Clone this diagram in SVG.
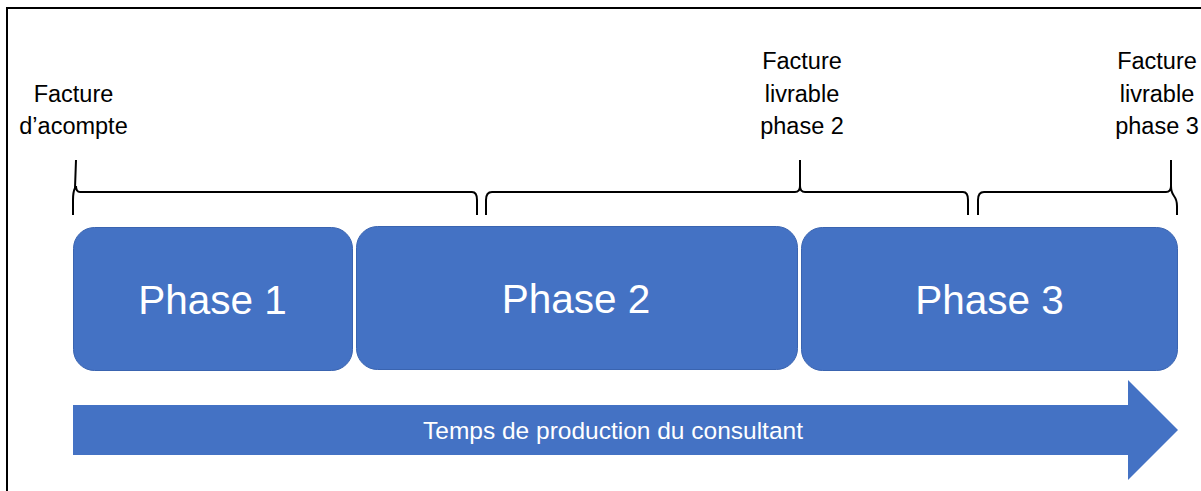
<svg xmlns="http://www.w3.org/2000/svg" width="1201" height="491" viewBox="0 0 1201 491">
  <style>
    .box { fill: #4472C4; stroke: #3A64B0; stroke-width: 1; }
    .phase { font-family: "Liberation Sans", Arial, sans-serif; font-size: 40.5px; fill: #FFFFFF; text-anchor: middle; }
    .label { font-family: "Liberation Sans", Arial, sans-serif; font-size: 23.5px; fill: #000000; text-anchor: middle; }
    .arrowtext { font-family: "Liberation Sans", Arial, sans-serif; font-size: 24.5px; fill: #FFFFFF; text-anchor: middle; }
    .brace { fill: none; stroke: #000000; stroke-width: 2; stroke-linejoin: round; }
    .frame { fill: none; stroke: #000000; stroke-width: 2; }
  </style>
  <rect width="1201" height="491" fill="#FFFFFF"/>
  <g id="frame">
    <path class="frame" d="M7,491 L7,8 L1201,8"/>
  </g>
  <g id="label-acompte">
    <text class="label" x="73.5" y="102">Facture</text>
    <text class="label" x="73.5" y="134">d’acompte</text>
  </g>
  <g id="label-phase2">
    <text class="label" x="802" y="69">Facture</text>
    <text class="label" x="802" y="102">livrable</text>
    <text class="label" x="802" y="134">phase 2</text>
  </g>
  <g id="label-phase3">
    <text class="label" x="1157" y="69">Facture</text>
    <text class="label" x="1157" y="102">livrable</text>
    <text class="label" x="1157" y="134">phase 3</text>
  </g>
  <g id="connectors">
    <path class="brace" d="M73,215 L73,200 Q73,192 75,188 L76,160 M76,186 Q76,192 80,192 L472,192 Q477,192 477,200 L477,215"/>
    <path class="brace" d="M486,215 L486,200 Q486,192 492,192 L795,192 Q800,192 800,186 L800,160 M800,186 Q800,192 805,192 L963,192 Q968,192 968,200 L968,215"/>
    <path class="brace" d="M978,215 L978,200 Q978,192 984,192 L1166,192 Q1171,192 1171,186 L1171,160 M1171,186 Q1171,192 1174,196 Q1177,200 1177,206 L1177,215"/>
  </g>
  <g id="phase1">
    <rect class="box" x="73.5" y="227.5" width="279" height="143" rx="21" ry="21"/>
    <text class="phase" x="212.5" y="314">Phase 1</text>
  </g>
  <g id="phase2">
    <rect class="box" x="356.5" y="226.5" width="441" height="143" rx="21" ry="21"/>
    <text class="phase" x="576" y="313">Phase 2</text>
  </g>
  <g id="phase3">
    <rect class="box" x="801.5" y="227.5" width="376" height="143" rx="21" ry="21"/>
    <text class="phase" x="989.5" y="314">Phase 3</text>
  </g>
  <g id="timeline">
    <polygon fill="#4472C4" points="73,405 1128,405 1128,380 1178,430 1128,480 1128,455 73,455"/>
    <text class="arrowtext" x="613" y="439">Temps de production du consultant</text>
  </g>
</svg>
